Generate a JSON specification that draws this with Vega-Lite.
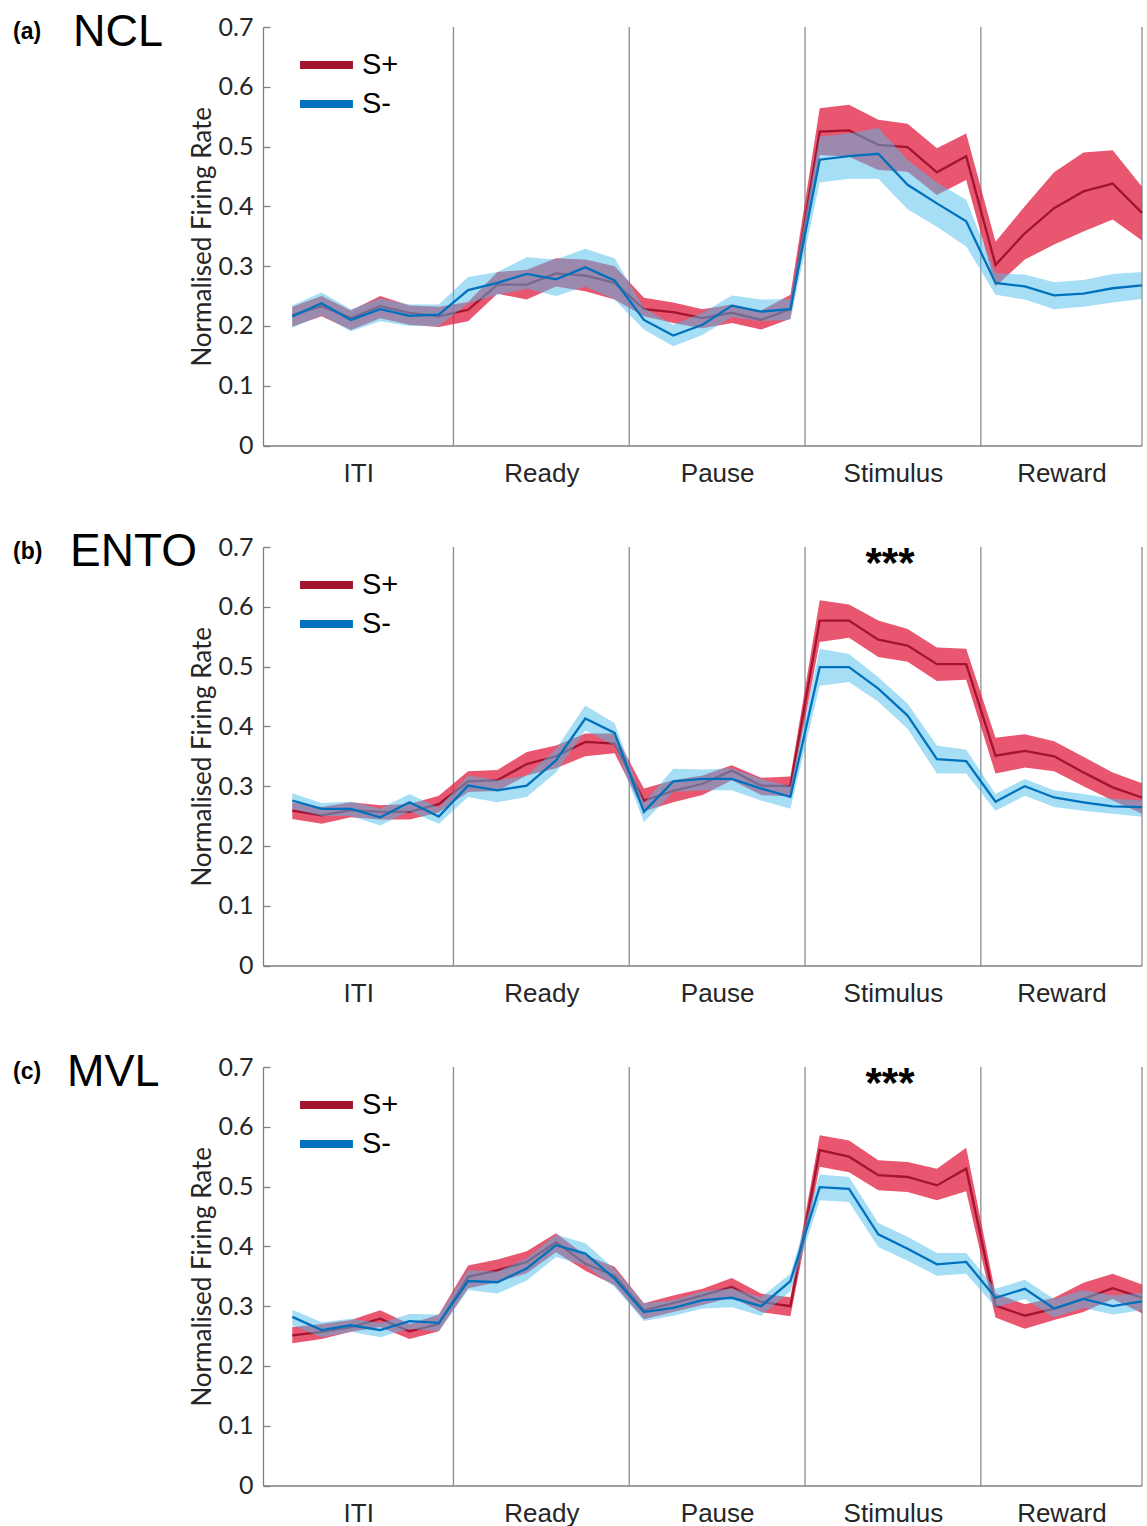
{
"$schema":"https://vega.github.io/schema/vega-lite/v6.json",
"background":"white",
"padding":{"left":13,"top":10,"right":0,"bottom":0},
"spacing":101,
"bounds":"flush",
"config":{"view":{"stroke":null},"axis":{"grid":false}},
"datasets":{
"sep":[{"k":5.5},{"k":11.5},{"k":17.5},{"k":23.5},{"k":29}],
"d":[
{"p":"a","c":"S+","k":0,"m":0.218,"lo":0.199,"hi":0.232},
{"p":"a","c":"S+","k":1,"m":0.233,"lo":0.216,"hi":0.25},
{"p":"a","c":"S+","k":2,"m":0.213,"lo":0.193,"hi":0.226},
{"p":"a","c":"S+","k":3,"m":0.233,"lo":0.213,"hi":0.25},
{"p":"a","c":"S+","k":4,"m":0.222,"lo":0.202,"hi":0.234},
{"p":"a","c":"S+","k":5,"m":0.216,"lo":0.198,"hi":0.232},
{"p":"a","c":"S+","k":6,"m":0.227,"lo":0.208,"hi":0.24},
{"p":"a","c":"S+","k":7,"m":0.269,"lo":0.254,"hi":0.29},
{"p":"a","c":"S+","k":8,"m":0.269,"lo":0.244,"hi":0.294},
{"p":"a","c":"S+","k":9,"m":0.288,"lo":0.266,"hi":0.313},
{"p":"a","c":"S+","k":10,"m":0.284,"lo":0.258,"hi":0.311},
{"p":"a","c":"S+","k":11,"m":0.272,"lo":0.244,"hi":0.3},
{"p":"a","c":"S+","k":12,"m":0.228,"lo":0.216,"hi":0.247},
{"p":"a","c":"S+","k":13,"m":0.223,"lo":0.205,"hi":0.239},
{"p":"a","c":"S+","k":14,"m":0.213,"lo":0.196,"hi":0.228},
{"p":"a","c":"S+","k":15,"m":0.222,"lo":0.205,"hi":0.236},
{"p":"a","c":"S+","k":16,"m":0.21,"lo":0.194,"hi":0.226},
{"p":"a","c":"S+","k":17,"m":0.228,"lo":0.212,"hi":0.252},
{"p":"a","c":"S+","k":18,"m":0.525,"lo":0.486,"hi":0.564},
{"p":"a","c":"S+","k":19,"m":0.527,"lo":0.483,"hi":0.57},
{"p":"a","c":"S+","k":20,"m":0.503,"lo":0.461,"hi":0.545},
{"p":"a","c":"S+","k":21,"m":0.499,"lo":0.458,"hi":0.538},
{"p":"a","c":"S+","k":22,"m":0.457,"lo":0.419,"hi":0.497},
{"p":"a","c":"S+","k":23,"m":0.484,"lo":0.444,"hi":0.522},
{"p":"a","c":"S+","k":24,"m":0.302,"lo":0.266,"hi":0.341},
{"p":"a","c":"S+","k":25,"m":0.355,"lo":0.311,"hi":0.4},
{"p":"a","c":"S+","k":26,"m":0.397,"lo":0.336,"hi":0.457},
{"p":"a","c":"S+","k":27,"m":0.425,"lo":0.358,"hi":0.49},
{"p":"a","c":"S+","k":28,"m":0.438,"lo":0.378,"hi":0.494},
{"p":"a","c":"S+","k":29,"m":0.389,"lo":0.343,"hi":0.433},
{"p":"a","c":"S-","k":0,"m":0.216,"lo":0.197,"hi":0.234},
{"p":"a","c":"S-","k":1,"m":0.238,"lo":0.218,"hi":0.256},
{"p":"a","c":"S-","k":2,"m":0.21,"lo":0.191,"hi":0.228},
{"p":"a","c":"S-","k":3,"m":0.228,"lo":0.208,"hi":0.246},
{"p":"a","c":"S-","k":4,"m":0.217,"lo":0.2,"hi":0.236},
{"p":"a","c":"S-","k":5,"m":0.219,"lo":0.2,"hi":0.236},
{"p":"a","c":"S-","k":6,"m":0.26,"lo":0.238,"hi":0.282},
{"p":"a","c":"S-","k":7,"m":0.272,"lo":0.252,"hi":0.29},
{"p":"a","c":"S-","k":8,"m":0.287,"lo":0.262,"hi":0.315},
{"p":"a","c":"S-","k":9,"m":0.278,"lo":0.25,"hi":0.311},
{"p":"a","c":"S-","k":10,"m":0.298,"lo":0.266,"hi":0.329},
{"p":"a","c":"S-","k":11,"m":0.276,"lo":0.244,"hi":0.313},
{"p":"a","c":"S-","k":12,"m":0.21,"lo":0.194,"hi":0.23},
{"p":"a","c":"S-","k":13,"m":0.184,"lo":0.166,"hi":0.202},
{"p":"a","c":"S-","k":14,"m":0.202,"lo":0.185,"hi":0.222},
{"p":"a","c":"S-","k":15,"m":0.234,"lo":0.215,"hi":0.251},
{"p":"a","c":"S-","k":16,"m":0.224,"lo":0.208,"hi":0.244},
{"p":"a","c":"S-","k":17,"m":0.228,"lo":0.21,"hi":0.245},
{"p":"a","c":"S-","k":18,"m":0.478,"lo":0.44,"hi":0.517},
{"p":"a","c":"S-","k":19,"m":0.484,"lo":0.446,"hi":0.522},
{"p":"a","c":"S-","k":20,"m":0.488,"lo":0.446,"hi":0.531},
{"p":"a","c":"S-","k":21,"m":0.436,"lo":0.395,"hi":0.478},
{"p":"a","c":"S-","k":22,"m":0.405,"lo":0.366,"hi":0.44},
{"p":"a","c":"S-","k":23,"m":0.375,"lo":0.333,"hi":0.411},
{"p":"a","c":"S-","k":24,"m":0.272,"lo":0.252,"hi":0.288},
{"p":"a","c":"S-","k":25,"m":0.266,"lo":0.244,"hi":0.286},
{"p":"a","c":"S-","k":26,"m":0.251,"lo":0.228,"hi":0.273},
{"p":"a","c":"S-","k":27,"m":0.254,"lo":0.232,"hi":0.277},
{"p":"a","c":"S-","k":28,"m":0.263,"lo":0.239,"hi":0.287},
{"p":"a","c":"S-","k":29,"m":0.268,"lo":0.245,"hi":0.29},
{"p":"b","c":"S+","k":0,"m":0.259,"lo":0.245,"hi":0.273},
{"p":"b","c":"S+","k":1,"m":0.251,"lo":0.237,"hi":0.265},
{"p":"b","c":"S+","k":2,"m":0.26,"lo":0.248,"hi":0.273},
{"p":"b","c":"S+","k":3,"m":0.257,"lo":0.244,"hi":0.268},
{"p":"b","c":"S+","k":4,"m":0.257,"lo":0.244,"hi":0.27},
{"p":"b","c":"S+","k":5,"m":0.27,"lo":0.256,"hi":0.284},
{"p":"b","c":"S+","k":6,"m":0.308,"lo":0.29,"hi":0.325},
{"p":"b","c":"S+","k":7,"m":0.31,"lo":0.292,"hi":0.327},
{"p":"b","c":"S+","k":8,"m":0.337,"lo":0.318,"hi":0.357},
{"p":"b","c":"S+","k":9,"m":0.35,"lo":0.33,"hi":0.368},
{"p":"b","c":"S+","k":10,"m":0.374,"lo":0.35,"hi":0.388},
{"p":"b","c":"S+","k":11,"m":0.371,"lo":0.355,"hi":0.388},
{"p":"b","c":"S+","k":12,"m":0.276,"lo":0.258,"hi":0.296},
{"p":"b","c":"S+","k":13,"m":0.292,"lo":0.273,"hi":0.31},
{"p":"b","c":"S+","k":14,"m":0.304,"lo":0.285,"hi":0.318},
{"p":"b","c":"S+","k":15,"m":0.326,"lo":0.31,"hi":0.335},
{"p":"b","c":"S+","k":16,"m":0.301,"lo":0.285,"hi":0.314},
{"p":"b","c":"S+","k":17,"m":0.3,"lo":0.283,"hi":0.316},
{"p":"b","c":"S+","k":18,"m":0.577,"lo":0.541,"hi":0.611},
{"p":"b","c":"S+","k":19,"m":0.577,"lo":0.548,"hi":0.604},
{"p":"b","c":"S+","k":20,"m":0.545,"lo":0.516,"hi":0.577},
{"p":"b","c":"S+","k":21,"m":0.535,"lo":0.508,"hi":0.563},
{"p":"b","c":"S+","k":22,"m":0.504,"lo":0.476,"hi":0.532},
{"p":"b","c":"S+","k":23,"m":0.504,"lo":0.478,"hi":0.53},
{"p":"b","c":"S+","k":24,"m":0.351,"lo":0.321,"hi":0.381},
{"p":"b","c":"S+","k":25,"m":0.359,"lo":0.331,"hi":0.387},
{"p":"b","c":"S+","k":26,"m":0.35,"lo":0.325,"hi":0.375},
{"p":"b","c":"S+","k":27,"m":0.323,"lo":0.3,"hi":0.349},
{"p":"b","c":"S+","k":28,"m":0.298,"lo":0.276,"hi":0.323},
{"p":"b","c":"S+","k":29,"m":0.281,"lo":0.254,"hi":0.305},
{"p":"b","c":"S-","k":0,"m":0.276,"lo":0.262,"hi":0.288},
{"p":"b","c":"S-","k":1,"m":0.262,"lo":0.25,"hi":0.272},
{"p":"b","c":"S-","k":2,"m":0.262,"lo":0.25,"hi":0.274},
{"p":"b","c":"S-","k":3,"m":0.248,"lo":0.234,"hi":0.262},
{"p":"b","c":"S-","k":4,"m":0.273,"lo":0.258,"hi":0.287},
{"p":"b","c":"S-","k":5,"m":0.249,"lo":0.237,"hi":0.264},
{"p":"b","c":"S-","k":6,"m":0.301,"lo":0.282,"hi":0.318},
{"p":"b","c":"S-","k":7,"m":0.293,"lo":0.273,"hi":0.31},
{"p":"b","c":"S-","k":8,"m":0.301,"lo":0.282,"hi":0.318},
{"p":"b","c":"S-","k":9,"m":0.343,"lo":0.323,"hi":0.362},
{"p":"b","c":"S-","k":10,"m":0.413,"lo":0.393,"hi":0.435},
{"p":"b","c":"S-","k":11,"m":0.389,"lo":0.368,"hi":0.405},
{"p":"b","c":"S-","k":12,"m":0.257,"lo":0.24,"hi":0.272},
{"p":"b","c":"S-","k":13,"m":0.308,"lo":0.29,"hi":0.329},
{"p":"b","c":"S-","k":14,"m":0.312,"lo":0.293,"hi":0.328},
{"p":"b","c":"S-","k":15,"m":0.312,"lo":0.293,"hi":0.33},
{"p":"b","c":"S-","k":16,"m":0.296,"lo":0.276,"hi":0.312},
{"p":"b","c":"S-","k":17,"m":0.282,"lo":0.262,"hi":0.3},
{"p":"b","c":"S-","k":18,"m":0.499,"lo":0.468,"hi":0.53},
{"p":"b","c":"S-","k":19,"m":0.499,"lo":0.474,"hi":0.521},
{"p":"b","c":"S-","k":20,"m":0.463,"lo":0.441,"hi":0.482},
{"p":"b","c":"S-","k":21,"m":0.418,"lo":0.396,"hi":0.438},
{"p":"b","c":"S-","k":22,"m":0.345,"lo":0.321,"hi":0.368},
{"p":"b","c":"S-","k":23,"m":0.342,"lo":0.321,"hi":0.361},
{"p":"b","c":"S-","k":24,"m":0.274,"lo":0.259,"hi":0.287},
{"p":"b","c":"S-","k":25,"m":0.3,"lo":0.284,"hi":0.312},
{"p":"b","c":"S-","k":26,"m":0.281,"lo":0.265,"hi":0.293},
{"p":"b","c":"S-","k":27,"m":0.273,"lo":0.259,"hi":0.287},
{"p":"b","c":"S-","k":28,"m":0.266,"lo":0.254,"hi":0.279},
{"p":"b","c":"S-","k":29,"m":0.265,"lo":0.249,"hi":0.276},
{"p":"c","c":"S+","k":0,"m":0.251,"lo":0.238,"hi":0.265},
{"p":"c","c":"S+","k":1,"m":0.257,"lo":0.245,"hi":0.27},
{"p":"c","c":"S+","k":2,"m":0.265,"lo":0.257,"hi":0.277},
{"p":"c","c":"S+","k":3,"m":0.279,"lo":0.265,"hi":0.293},
{"p":"c","c":"S+","k":4,"m":0.258,"lo":0.245,"hi":0.27},
{"p":"c","c":"S+","k":5,"m":0.27,"lo":0.258,"hi":0.286},
{"p":"c","c":"S+","k":6,"m":0.349,"lo":0.33,"hi":0.368},
{"p":"c","c":"S+","k":7,"m":0.36,"lo":0.34,"hi":0.378},
{"p":"c","c":"S+","k":8,"m":0.374,"lo":0.355,"hi":0.392},
{"p":"c","c":"S+","k":9,"m":0.407,"lo":0.39,"hi":0.422},
{"p":"c","c":"S+","k":10,"m":0.371,"lo":0.359,"hi":0.385},
{"p":"c","c":"S+","k":11,"m":0.351,"lo":0.335,"hi":0.366},
{"p":"c","c":"S+","k":12,"m":0.293,"lo":0.278,"hi":0.305},
{"p":"c","c":"S+","k":13,"m":0.305,"lo":0.29,"hi":0.318},
{"p":"c","c":"S+","k":14,"m":0.318,"lo":0.302,"hi":0.329},
{"p":"c","c":"S+","k":15,"m":0.332,"lo":0.315,"hi":0.347},
{"p":"c","c":"S+","k":16,"m":0.307,"lo":0.29,"hi":0.321},
{"p":"c","c":"S+","k":17,"m":0.3,"lo":0.283,"hi":0.315},
{"p":"c","c":"S+","k":18,"m":0.561,"lo":0.533,"hi":0.586},
{"p":"c","c":"S+","k":19,"m":0.55,"lo":0.524,"hi":0.577},
{"p":"c","c":"S+","k":20,"m":0.519,"lo":0.494,"hi":0.544},
{"p":"c","c":"S+","k":21,"m":0.516,"lo":0.491,"hi":0.541},
{"p":"c","c":"S+","k":22,"m":0.502,"lo":0.477,"hi":0.53},
{"p":"c","c":"S+","k":23,"m":0.53,"lo":0.492,"hi":0.565},
{"p":"c","c":"S+","k":24,"m":0.301,"lo":0.281,"hi":0.321},
{"p":"c","c":"S+","k":25,"m":0.284,"lo":0.262,"hi":0.303},
{"p":"c","c":"S+","k":26,"m":0.296,"lo":0.277,"hi":0.314},
{"p":"c","c":"S+","k":27,"m":0.312,"lo":0.29,"hi":0.339},
{"p":"c","c":"S+","k":28,"m":0.33,"lo":0.312,"hi":0.354},
{"p":"c","c":"S+","k":29,"m":0.314,"lo":0.288,"hi":0.336},
{"p":"c","c":"S-","k":0,"m":0.282,"lo":0.268,"hi":0.294},
{"p":"c","c":"S-","k":1,"m":0.26,"lo":0.248,"hi":0.273},
{"p":"c","c":"S-","k":2,"m":0.268,"lo":0.257,"hi":0.279},
{"p":"c","c":"S-","k":3,"m":0.26,"lo":0.248,"hi":0.272},
{"p":"c","c":"S-","k":4,"m":0.275,"lo":0.262,"hi":0.287},
{"p":"c","c":"S-","k":5,"m":0.272,"lo":0.258,"hi":0.286},
{"p":"c","c":"S-","k":6,"m":0.342,"lo":0.327,"hi":0.36},
{"p":"c","c":"S-","k":7,"m":0.34,"lo":0.321,"hi":0.358},
{"p":"c","c":"S-","k":8,"m":0.363,"lo":0.343,"hi":0.38},
{"p":"c","c":"S-","k":9,"m":0.402,"lo":0.382,"hi":0.42},
{"p":"c","c":"S-","k":10,"m":0.388,"lo":0.368,"hi":0.405},
{"p":"c","c":"S-","k":11,"m":0.346,"lo":0.332,"hi":0.362},
{"p":"c","c":"S-","k":12,"m":0.29,"lo":0.275,"hi":0.305},
{"p":"c","c":"S-","k":13,"m":0.297,"lo":0.284,"hi":0.31},
{"p":"c","c":"S-","k":14,"m":0.31,"lo":0.296,"hi":0.325},
{"p":"c","c":"S-","k":15,"m":0.314,"lo":0.298,"hi":0.33},
{"p":"c","c":"S-","k":16,"m":0.3,"lo":0.284,"hi":0.315},
{"p":"c","c":"S-","k":17,"m":0.342,"lo":0.325,"hi":0.354},
{"p":"c","c":"S-","k":18,"m":0.499,"lo":0.477,"hi":0.52},
{"p":"c","c":"S-","k":19,"m":0.496,"lo":0.474,"hi":0.516},
{"p":"c","c":"S-","k":20,"m":0.42,"lo":0.399,"hi":0.439},
{"p":"c","c":"S-","k":21,"m":0.396,"lo":0.376,"hi":0.416},
{"p":"c","c":"S-","k":22,"m":0.37,"lo":0.351,"hi":0.389},
{"p":"c","c":"S-","k":23,"m":0.374,"lo":0.354,"hi":0.389},
{"p":"c","c":"S-","k":24,"m":0.314,"lo":0.298,"hi":0.329},
{"p":"c","c":"S-","k":25,"m":0.329,"lo":0.312,"hi":0.344},
{"p":"c","c":"S-","k":26,"m":0.296,"lo":0.281,"hi":0.312},
{"p":"c","c":"S-","k":27,"m":0.312,"lo":0.297,"hi":0.327},
{"p":"c","c":"S-","k":28,"m":0.3,"lo":0.286,"hi":0.318},
{"p":"c","c":"S-","k":29,"m":0.308,"lo":0.293,"hi":0.322}
]},
"vconcat":[
{"width":879,"height":418.5,
"layer":[
{"data":{"name":"sep"},"mark":{"type":"rule","color":"#8c8c8c","strokeWidth":1.3},
"encoding":{"x":{"field":"k","type":"quantitative","scale":{"domain":[-1,29],"nice":false,"zero":false},
"axis":{"values":[2.25,8.5,14.5,20.5,26.25],"labelExpr":"datum.value<5?'ITI':datum.value<11?'Ready':datum.value<17?'Pause':datum.value<23?'Stimulus':'Reward'","ticks":false,"tickSize":0,"title":null,"labelFont":"Liberation Sans","labelFontSize":26,"labelColor":"#262626","labelPadding":15,"domainColor":"#7f7f7f","domainWidth":1.3,"labelFlush":false,"labelOverlap":false}},
"y":{"datum":0,"type":"quantitative","scale":{"domain":[0,0.7],"nice":false},
"axis":{"values":[0,0.1,0.2,0.3,0.4,0.5,0.6,0.7],"format":".1~f","title":"Normalised Firing Rate","titleFont":"Lato","titleFontSize":26,"titleFontWeight":"normal","titleColor":"#262626","titlePadding":3,"labelFont":"Lato","labelFontSize":25,"labelColor":"#262626","labelPadding":17,"tickSize":-7,"tickColor":"#7f7f7f","tickWidth":1.3,"domainColor":"#7f7f7f","domainWidth":1.3,"labelOverlap":false}},
"y2":{"datum":0.7}}},
{"data":{"name":"d"},"transform":[{"filter":"datum.p=='a' && datum.c=='S+'"}],"mark":{"type":"area","color":"#E01E3F","opacity":0.75},
"encoding":{"x":{"field":"k","type":"quantitative","scale":{"domain":[-1,29]}},"y":{"field":"lo","type":"quantitative","scale":{"domain":[0,0.7]}},"y2":{"field":"hi"}}},
{"data":{"name":"d"},"transform":[{"filter":"datum.p=='a' && datum.c=='S+'"}],"mark":{"type":"line","strokeWidth":2.3,"color":"#A2142F"},
"encoding":{"x":{"field":"k","type":"quantitative","scale":{"domain":[-1,29]}},"y":{"field":"m","type":"quantitative","scale":{"domain":[0,0.7]}}}},
{"data":{"name":"d"},"transform":[{"filter":"datum.p=='a' && datum.c=='S-'"}],"mark":{"type":"area","color":"#4DBEEE","opacity":0.5},
"encoding":{"x":{"field":"k","type":"quantitative","scale":{"domain":[-1,29]}},"y":{"field":"lo","type":"quantitative","scale":{"domain":[0,0.7]}},"y2":{"field":"hi"}}},
{"data":{"name":"d"},"transform":[{"filter":"datum.p=='a' && datum.c=='S-'"}],"mark":{"type":"line","strokeWidth":2.3,"color":"#0072BD"},
"encoding":{"x":{"field":"k","type":"quantitative","scale":{"domain":[-1,29]}},"y":{"field":"m","type":"quantitative","scale":{"domain":[0,0.7]}}}},
{"data":{"values":[{}]},"mark":{"type":"rule","color":"#A2142F","strokeWidth":8},
"encoding":{"x":{"datum":0.263,"type":"quantitative","scale":{"domain":[-1,29]}},"x2":{"datum":2.07},"y":{"datum":0.6365,"type":"quantitative","scale":{"domain":[0,0.7]}}}},
{"data":{"values":[{}]},"mark":{"type":"rule","color":"#0072BD","strokeWidth":8},
"encoding":{"x":{"datum":0.263,"type":"quantitative","scale":{"domain":[-1,29]}},"x2":{"datum":2.07},"y":{"datum":0.5713,"type":"quantitative","scale":{"domain":[0,0.7]}}}},
{"data":{"values":[{}]},"mark":{"type":"text","text":"S+","font":"Liberation Sans","fontSize":29,"align":"left","baseline":"middle","color":"black"},
"encoding":{"x":{"datum":2.379,"type":"quantitative","scale":{"domain":[-1,29]}},"y":{"datum":0.6365,"type":"quantitative","scale":{"domain":[0,0.7]}}}},
{"data":{"values":[{}]},"mark":{"type":"text","text":"S-","font":"Liberation Sans","fontSize":29,"align":"left","baseline":"middle","color":"black"},
"encoding":{"x":{"datum":2.379,"type":"quantitative","scale":{"domain":[-1,29]}},"y":{"datum":0.5713,"type":"quantitative","scale":{"domain":[0,0.7]}}}},
{"data":{"values":[{}]},"mark":{"type":"text","text":"(a)","font":"Liberation Sans","fontWeight":"bold","fontSize":23,"align":"left","baseline":"alphabetic","color":"black"},
"encoding":{"x":{"datum":-9.53,"type":"quantitative","scale":{"domain":[-1,29]}},"y":{"datum":0.68,"type":"quantitative","scale":{"domain":[0,0.7]}}}},
{"data":{"values":[{}]},"mark":{"type":"text","text":"NCL","font":"Liberation Sans","fontSize":45,"align":"left","baseline":"alphabetic","color":"black"},
"encoding":{"x":{"datum":-7.485,"type":"quantitative","scale":{"domain":[-1,29]}},"y":{"datum":0.668,"type":"quantitative","scale":{"domain":[0,0.7]}}}}
]},
{"width":879,"height":418.5,
"layer":[
{"data":{"name":"sep"},"mark":{"type":"rule","color":"#8c8c8c","strokeWidth":1.3},
"encoding":{"x":{"field":"k","type":"quantitative","scale":{"domain":[-1,29],"nice":false,"zero":false},
"axis":{"values":[2.25,8.5,14.5,20.5,26.25],"labelExpr":"datum.value<5?'ITI':datum.value<11?'Ready':datum.value<17?'Pause':datum.value<23?'Stimulus':'Reward'","ticks":false,"tickSize":0,"title":null,"labelFont":"Liberation Sans","labelFontSize":26,"labelColor":"#262626","labelPadding":15,"domainColor":"#7f7f7f","domainWidth":1.3,"labelFlush":false,"labelOverlap":false}},
"y":{"datum":0,"type":"quantitative","scale":{"domain":[0,0.7],"nice":false},
"axis":{"values":[0,0.1,0.2,0.3,0.4,0.5,0.6,0.7],"format":".1~f","title":"Normalised Firing Rate","titleFont":"Lato","titleFontSize":26,"titleFontWeight":"normal","titleColor":"#262626","titlePadding":3,"labelFont":"Lato","labelFontSize":25,"labelColor":"#262626","labelPadding":17,"tickSize":-7,"tickColor":"#7f7f7f","tickWidth":1.3,"domainColor":"#7f7f7f","domainWidth":1.3,"labelOverlap":false}},
"y2":{"datum":0.7}}},
{"data":{"name":"d"},"transform":[{"filter":"datum.p=='b' && datum.c=='S+'"}],"mark":{"type":"area","color":"#E01E3F","opacity":0.75},
"encoding":{"x":{"field":"k","type":"quantitative","scale":{"domain":[-1,29]}},"y":{"field":"lo","type":"quantitative","scale":{"domain":[0,0.7]}},"y2":{"field":"hi"}}},
{"data":{"name":"d"},"transform":[{"filter":"datum.p=='b' && datum.c=='S+'"}],"mark":{"type":"line","strokeWidth":2.3,"color":"#A2142F"},
"encoding":{"x":{"field":"k","type":"quantitative","scale":{"domain":[-1,29]}},"y":{"field":"m","type":"quantitative","scale":{"domain":[0,0.7]}}}},
{"data":{"name":"d"},"transform":[{"filter":"datum.p=='b' && datum.c=='S-'"}],"mark":{"type":"area","color":"#4DBEEE","opacity":0.5},
"encoding":{"x":{"field":"k","type":"quantitative","scale":{"domain":[-1,29]}},"y":{"field":"lo","type":"quantitative","scale":{"domain":[0,0.7]}},"y2":{"field":"hi"}}},
{"data":{"name":"d"},"transform":[{"filter":"datum.p=='b' && datum.c=='S-'"}],"mark":{"type":"line","strokeWidth":2.3,"color":"#0072BD"},
"encoding":{"x":{"field":"k","type":"quantitative","scale":{"domain":[-1,29]}},"y":{"field":"m","type":"quantitative","scale":{"domain":[0,0.7]}}}},
{"data":{"values":[{}]},"mark":{"type":"rule","color":"#A2142F","strokeWidth":8},
"encoding":{"x":{"datum":0.263,"type":"quantitative","scale":{"domain":[-1,29]}},"x2":{"datum":2.07},"y":{"datum":0.6365,"type":"quantitative","scale":{"domain":[0,0.7]}}}},
{"data":{"values":[{}]},"mark":{"type":"rule","color":"#0072BD","strokeWidth":8},
"encoding":{"x":{"datum":0.263,"type":"quantitative","scale":{"domain":[-1,29]}},"x2":{"datum":2.07},"y":{"datum":0.5713,"type":"quantitative","scale":{"domain":[0,0.7]}}}},
{"data":{"values":[{}]},"mark":{"type":"text","text":"S+","font":"Liberation Sans","fontSize":29,"align":"left","baseline":"middle","color":"black"},
"encoding":{"x":{"datum":2.379,"type":"quantitative","scale":{"domain":[-1,29]}},"y":{"datum":0.6365,"type":"quantitative","scale":{"domain":[0,0.7]}}}},
{"data":{"values":[{}]},"mark":{"type":"text","text":"S-","font":"Liberation Sans","fontSize":29,"align":"left","baseline":"middle","color":"black"},
"encoding":{"x":{"datum":2.379,"type":"quantitative","scale":{"domain":[-1,29]}},"y":{"datum":0.5713,"type":"quantitative","scale":{"domain":[0,0.7]}}}},
{"data":{"values":[{}]},"mark":{"type":"text","text":"(b)","font":"Liberation Sans","fontWeight":"bold","fontSize":23,"align":"left","baseline":"alphabetic","color":"black"},
"encoding":{"x":{"datum":-9.53,"type":"quantitative","scale":{"domain":[-1,29]}},"y":{"datum":0.68,"type":"quantitative","scale":{"domain":[0,0.7]}}}},
{"data":{"values":[{}]},"mark":{"type":"text","text":"ENTO","font":"Liberation Sans","fontSize":46,"align":"left","baseline":"alphabetic","color":"black"},
"encoding":{"x":{"datum":-7.587,"type":"quantitative","scale":{"domain":[-1,29]}},"y":{"datum":0.668,"type":"quantitative","scale":{"domain":[0,0.7]}}}},
{"data":{"values":[{}]},"mark":{"type":"text","text":"***","font":"Liberation Sans","fontWeight":"bold","fontSize":42,"align":"center","baseline":"alphabetic","color":"black"},
"encoding":{"x":{"datum":20.4,"type":"quantitative","scale":{"domain":[-1,29]}},"y":{"datum":0.65,"type":"quantitative","scale":{"domain":[0,0.7]}}}}
]},
{"width":879,"height":418.5,
"layer":[
{"data":{"name":"sep"},"mark":{"type":"rule","color":"#8c8c8c","strokeWidth":1.3},
"encoding":{"x":{"field":"k","type":"quantitative","scale":{"domain":[-1,29],"nice":false,"zero":false},
"axis":{"values":[2.25,8.5,14.5,20.5,26.25],"labelExpr":"datum.value<5?'ITI':datum.value<11?'Ready':datum.value<17?'Pause':datum.value<23?'Stimulus':'Reward'","ticks":false,"tickSize":0,"title":null,"labelFont":"Liberation Sans","labelFontSize":26,"labelColor":"#262626","labelPadding":15,"domainColor":"#7f7f7f","domainWidth":1.3,"labelFlush":false,"labelOverlap":false}},
"y":{"datum":0,"type":"quantitative","scale":{"domain":[0,0.7],"nice":false},
"axis":{"values":[0,0.1,0.2,0.3,0.4,0.5,0.6,0.7],"format":".1~f","title":"Normalised Firing Rate","titleFont":"Lato","titleFontSize":26,"titleFontWeight":"normal","titleColor":"#262626","titlePadding":3,"labelFont":"Lato","labelFontSize":25,"labelColor":"#262626","labelPadding":17,"tickSize":-7,"tickColor":"#7f7f7f","tickWidth":1.3,"domainColor":"#7f7f7f","domainWidth":1.3,"labelOverlap":false}},
"y2":{"datum":0.7}}},
{"data":{"name":"d"},"transform":[{"filter":"datum.p=='c' && datum.c=='S+'"}],"mark":{"type":"area","color":"#E01E3F","opacity":0.75},
"encoding":{"x":{"field":"k","type":"quantitative","scale":{"domain":[-1,29]}},"y":{"field":"lo","type":"quantitative","scale":{"domain":[0,0.7]}},"y2":{"field":"hi"}}},
{"data":{"name":"d"},"transform":[{"filter":"datum.p=='c' && datum.c=='S+'"}],"mark":{"type":"line","strokeWidth":2.3,"color":"#A2142F"},
"encoding":{"x":{"field":"k","type":"quantitative","scale":{"domain":[-1,29]}},"y":{"field":"m","type":"quantitative","scale":{"domain":[0,0.7]}}}},
{"data":{"name":"d"},"transform":[{"filter":"datum.p=='c' && datum.c=='S-'"}],"mark":{"type":"area","color":"#4DBEEE","opacity":0.5},
"encoding":{"x":{"field":"k","type":"quantitative","scale":{"domain":[-1,29]}},"y":{"field":"lo","type":"quantitative","scale":{"domain":[0,0.7]}},"y2":{"field":"hi"}}},
{"data":{"name":"d"},"transform":[{"filter":"datum.p=='c' && datum.c=='S-'"}],"mark":{"type":"line","strokeWidth":2.3,"color":"#0072BD"},
"encoding":{"x":{"field":"k","type":"quantitative","scale":{"domain":[-1,29]}},"y":{"field":"m","type":"quantitative","scale":{"domain":[0,0.7]}}}},
{"data":{"values":[{}]},"mark":{"type":"rule","color":"#A2142F","strokeWidth":8},
"encoding":{"x":{"datum":0.263,"type":"quantitative","scale":{"domain":[-1,29]}},"x2":{"datum":2.07},"y":{"datum":0.6365,"type":"quantitative","scale":{"domain":[0,0.7]}}}},
{"data":{"values":[{}]},"mark":{"type":"rule","color":"#0072BD","strokeWidth":8},
"encoding":{"x":{"datum":0.263,"type":"quantitative","scale":{"domain":[-1,29]}},"x2":{"datum":2.07},"y":{"datum":0.5713,"type":"quantitative","scale":{"domain":[0,0.7]}}}},
{"data":{"values":[{}]},"mark":{"type":"text","text":"S+","font":"Liberation Sans","fontSize":29,"align":"left","baseline":"middle","color":"black"},
"encoding":{"x":{"datum":2.379,"type":"quantitative","scale":{"domain":[-1,29]}},"y":{"datum":0.6365,"type":"quantitative","scale":{"domain":[0,0.7]}}}},
{"data":{"values":[{}]},"mark":{"type":"text","text":"S-","font":"Liberation Sans","fontSize":29,"align":"left","baseline":"middle","color":"black"},
"encoding":{"x":{"datum":2.379,"type":"quantitative","scale":{"domain":[-1,29]}},"y":{"datum":0.5713,"type":"quantitative","scale":{"domain":[0,0.7]}}}},
{"data":{"values":[{}]},"mark":{"type":"text","text":"(c)","font":"Liberation Sans","fontWeight":"bold","fontSize":23,"align":"left","baseline":"alphabetic","color":"black"},
"encoding":{"x":{"datum":-9.53,"type":"quantitative","scale":{"domain":[-1,29]}},"y":{"datum":0.68,"type":"quantitative","scale":{"domain":[0,0.7]}}}},
{"data":{"values":[{}]},"mark":{"type":"text","text":"MVL","font":"Liberation Sans","fontSize":45,"align":"left","baseline":"alphabetic","color":"black"},
"encoding":{"x":{"datum":-7.69,"type":"quantitative","scale":{"domain":[-1,29]}},"y":{"datum":0.668,"type":"quantitative","scale":{"domain":[0,0.7]}}}},
{"data":{"values":[{}]},"mark":{"type":"text","text":"***","font":"Liberation Sans","fontWeight":"bold","fontSize":42,"align":"center","baseline":"alphabetic","color":"black"},
"encoding":{"x":{"datum":20.4,"type":"quantitative","scale":{"domain":[-1,29]}},"y":{"datum":0.65,"type":"quantitative","scale":{"domain":[0,0.7]}}}}
]}
]
}
